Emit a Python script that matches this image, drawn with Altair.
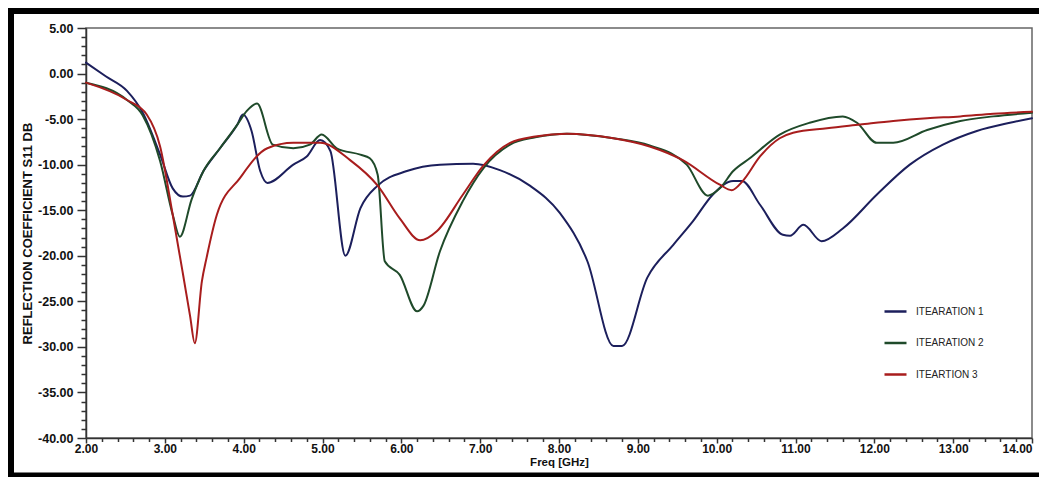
import altair as alt
import pandas as pd

# ---- data ----
freq_it1 = [2.0, 2.25, 2.52, 2.72, 2.94, 3.10, 3.23, 3.32, 3.49, 3.70, 3.92, 3.99, 4.10, 4.21, 4.30,
            4.63, 4.80, 4.97, 5.10, 5.29, 5.48, 5.70, 6.07, 6.49, 6.91, 7.25, 7.63, 8.01, 8.36, 8.69,
            8.80, 9.12, 9.45, 9.70, 9.95, 10.21, 10.32, 10.55, 10.84, 10.93, 11.10, 11.33, 11.60,
            12.03, 12.45, 12.87, 13.30, 13.72, 14.0]
s11_it1 = [1.2, -0.3, -1.9, -4.3, -8.9, -12.6, -13.5, -13.4, -10.7, -8.2, -5.6, -4.5, -6.3, -10.7, -12.0,
           -10.0, -9.1, -7.3, -8.5, -20.0, -14.8, -12.3, -10.7, -10.0, -9.9, -10.6, -12.3, -15.3, -20.6, -29.9,
           -29.9, -22.4, -18.8, -16.2, -13.3, -11.8, -11.8, -14.4, -17.7, -17.8, -16.6, -18.4, -17.0,
           -13.3, -10.0, -7.8, -6.3, -5.4, -4.9]

freq_it2 = [2.0, 2.52, 2.72, 2.94, 3.10, 3.19, 3.34, 3.49, 3.70, 3.92, 4.04, 4.17, 4.37, 4.63, 4.84,
            4.99, 5.18, 5.48, 5.60, 5.70, 5.79, 5.98, 6.20, 6.28, 6.49, 6.78, 7.04, 7.38, 7.70, 8.10,
            8.69, 9.15, 9.62, 9.89, 10.04, 10.21, 10.42, 10.80, 11.18, 11.60, 11.78, 12.03, 12.24,
            12.67, 13.09, 13.51, 14.0]
s11_it2 = [-1.0, -2.9, -4.6, -9.6, -15.5, -17.9, -13.8, -10.7, -8.2, -5.6, -4.1, -3.3, -7.8, -8.2, -7.8,
           -6.7, -8.2, -8.9, -9.3, -11.1, -20.6, -22.1, -26.1, -25.5, -19.5, -14.0, -10.4, -7.8, -7.0, -6.6,
           -7.1, -7.9, -10.0, -13.4, -12.6, -10.7, -9.3, -6.7, -5.4, -4.7, -5.4, -7.6, -7.6,
           -6.2, -5.2, -4.7, -4.3]

freq_it3 = [2.0, 2.52, 2.77, 2.94, 3.10, 3.23, 3.32, 3.38, 3.47, 3.53, 3.66, 3.95, 4.30, 4.63, 4.97,
            5.35, 5.70, 5.98, 6.24, 6.45, 6.78, 7.04, 7.38, 7.70, 8.10, 8.69, 9.15, 9.57, 10.04, 10.19,
            10.33, 10.55, 10.80, 10.97, 11.40, 11.82, 12.24, 12.67, 13.09, 13.51, 14.0]
s11_it3 = [-1.0, -2.9, -4.5, -8.0, -15.5, -22.0, -26.6, -29.6, -22.8, -20.2, -15.5, -11.5, -8.2, -7.6, -7.6,
           -9.5, -12.3, -15.9, -18.3, -17.3, -13.3, -10.1, -7.6, -6.9, -6.6, -7.1, -8.0, -9.5, -12.2, -12.8,
           -11.8, -9.1, -7.1, -6.5, -6.0, -5.6, -5.2, -4.9, -4.7, -4.4, -4.2]

series_names = ["ITEARATION 1", "ITEARATION 2", "ITEARTION 3"]
series_colors = ["#1c1f5c", "#1f4a2a", "#a81d1d"]

x_major = [2, 3, 4, 5, 6, 7, 8, 9, 10, 11, 12, 13, 14]
y_major = [-40, -35, -30, -25, -20, -15, -10, -5, 0, 5]
x_minor = [round(2 + 0.2 * i, 2) for i in range(61) if i % 5 != 0]
y_minor = [v for v in range(-40, 6) if v % 5 != 0]

rows = []
for name, fs, vs in zip(series_names, [freq_it1, freq_it2, freq_it3], [s11_it1, s11_it2, s11_it3]):
    for f, v in zip(fs, vs):
        rows.append({"freq": f, "s11": v, "series": name})
df = pd.DataFrame(rows)

W, H = 946, 410
PL, PT, PR, PB = 78, 20, 7, 39
FONT = "Liberation Sans"
minus_fix = "replace(format(datum.value, '.2f'), '\u2212', '-')"

x_scale = alt.Scale(domain=[2, 14], nice=False, zero=False)
y_scale = alt.Scale(domain=[-40, 5], nice=False, zero=False)

lines = alt.Chart(df).mark_line(
    interpolate="monotone", strokeWidth=2, strokeJoin="round", strokeCap="round"
).encode(
    x=alt.X("freq:Q", scale=x_scale,
            axis=alt.Axis(values=x_major, labelExpr=minus_fix, orient="bottom", grid=False,
                          title="Freq [GHz]", titleFont=FONT, titleFontSize=11.5, titleFontWeight="bold",
                          titleColor="#111", titlePadding=2,
                          labelFont=FONT, labelFontSize=12, labelFontWeight="bold", labelColor="#111",
                          labelPadding=0, tickSize=5, tickWidth=1.5, tickColor="#333",
                          labelAlign={"condition": {"test": "datum.value >= 14", "value": "right"},
                                      "value": "center"},
                          domainColor="#333", domainWidth=1.5, labelFlush=False)),
    y=alt.Y("s11:Q", scale=y_scale,
            axis=alt.Axis(values=y_major, labelExpr=minus_fix, orient="left", grid=False,
                          title="REFLECTION COEFFICIENT S11 DB", titleFont=FONT, titleFontSize=13,
                          titleFontWeight="bold", titleColor="#111", titlePadding=3,
                          labelFont=FONT, labelFontSize=12.5, labelFontWeight="bold", labelColor="#111",
                          labelPadding=4, tickSize=9, tickWidth=1.5, tickColor="#333",
                          domainColor="#333", domainWidth=1.5, labelFlush=False)),
    color=alt.Color("series:N", sort=series_names,
                    scale=alt.Scale(domain=series_names, range=series_colors),
                    legend=alt.Legend(title=None, orient="none", legendX=797, legendY=271,
                                      symbolType="stroke", symbolSize=484, symbolStrokeWidth=2.5,
                                      labelFont=FONT, labelFontSize=10, labelColor="#222",
                                      labelOffset=8, rowPadding=13.5)),
)

minor = alt.Chart(pd.DataFrame({"freq": [2.0], "s11": [-40.0]})).mark_point(opacity=0).encode(
    x=alt.X("freq:Q", scale=x_scale,
            axis=alt.Axis(values=x_minor, labels=False, domain=False, grid=False, title=None,
                          orient="bottom", tickSize=3.5, tickWidth=1.5, tickColor="#333")),
    y=alt.Y("s11:Q", scale=y_scale,
            axis=alt.Axis(values=y_minor, labels=False, domain=False, grid=False, title=None,
                          orient="left", tickSize=5, tickWidth=1.5, tickColor="#333")),
)

# thick black picture frame on the left, top and bottom (the right side lies outside the figure)
frame = alt.Chart(pd.DataFrame({"k": [0]})).mark_rect(
    fillOpacity=0, stroke="black", strokeWidth=7
).encode(
    x=alt.value(-PL + 2.5), x2=alt.value(W + PR + 12),
    y=alt.value(-PT + 2.5), y2=alt.value(H + PB - 1),
)

chart = alt.layer(lines, minor, frame).resolve_axis(x="independent", y="independent").properties(
    width=W, height=H,
    padding={"left": PL, "top": PT, "right": PR, "bottom": PB},
    autosize=alt.AutoSizeParams(type="none"),
    background="white",
).configure_view(stroke="#666", strokeWidth=1.5)

chart.save("out.html", embed_options={"renderer": "svg", "actions": False})
